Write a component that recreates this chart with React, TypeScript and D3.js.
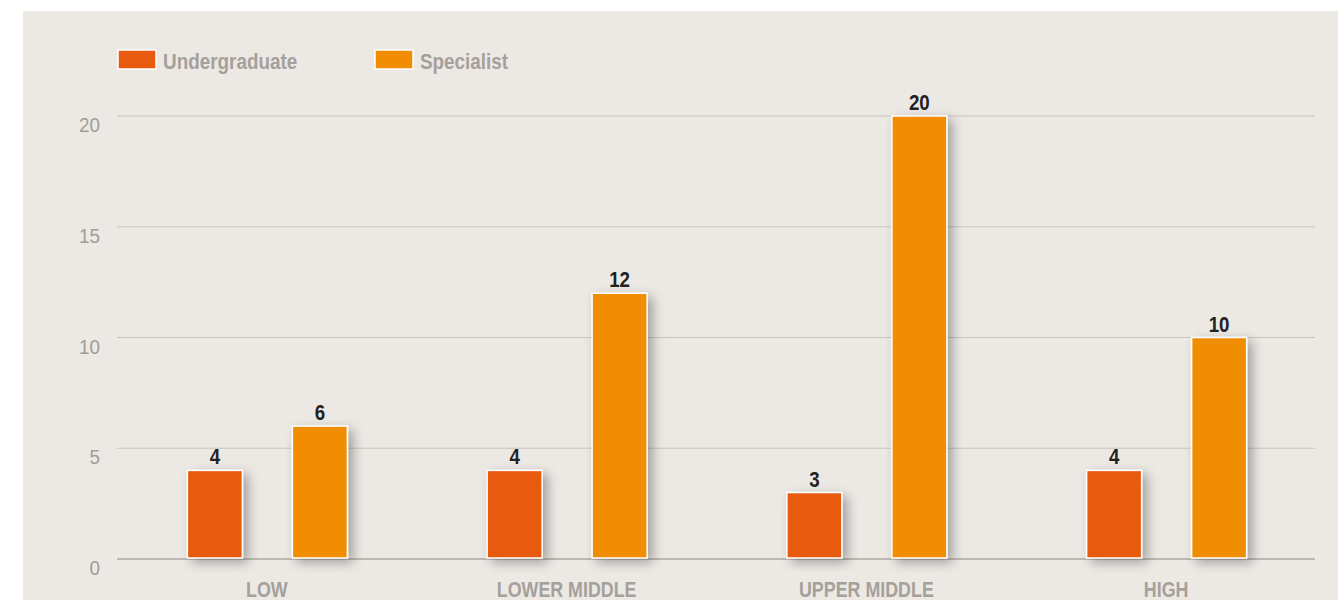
import React from "react";
import * as d3 from "d3";

const categories = ["LOW", "LOWER MIDDLE", "UPPER MIDDLE", "HIGH"];
const seriesNames = ["Undergraduate", "Specialist"];
const undergraduate = [4, 4, 3, 4];
const specialist = [6, 12, 20, 10];
const yTicks = [0, 5, 10, 15, 20];
const colors = ["#e85a10", "#f08d00"];

const W = 1338, H = 601;
const FONT = "'Liberation Sans', Arial, sans-serif";

function T(props: { x: number; y: number; sx: number; size: number; weight?: string; fill: string; anchor?: string; children: React.ReactNode }) {
  return (
    <text
      transform={`translate(${props.x},${props.y}) scale(${props.sx},1)`}
      textAnchor={props.anchor || "start"}
      fontFamily={FONT}
      fontSize={props.size}
      fontWeight={props.weight || "normal"}
      fill={props.fill}
    >
      {props.children}
    </text>
  );
}

export default function App() {
  const x = d3.scaleBand<string>().domain(categories).range([117, 1316]);
  const y = d3.scaleLinear().domain([0, 20]).range([559, 116]);
  const series = [undergraduate, specialist];
  const bw = 55;
  const offs = [-52, 53];
  return (
    <svg width={W} height={H} style={{ position: "absolute", left: 0, top: 0 }}>
      <defs>
        <filter id="sh" x="-50%" y="-20%" width="200%" height="140%">
          <feGaussianBlur in="SourceAlpha" stdDeviation="6" />
          <feOffset dx="5" dy="4" result="b" />
          <feComponentTransfer><feFuncA type="linear" slope="0.32" /></feComponentTransfer>
          <feMerge><feMergeNode /><feMergeNode in="SourceGraphic" /></feMerge>
        </filter>
      </defs>
      <rect x={23} y={11} width={W - 23} height={589} fill="#ece9e5" />
      {yTicks.map((t) => (
        <g key={t}>
          <line x1={117} x2={1315} y1={y(t)} y2={y(t)} stroke={t === 0 ? "#bdb8b1" : "#c9c4bd"} strokeWidth={t === 0 ? 2 : 1.2} />
          <T x={100} y={y(t) + 16} sx={0.9} size={21} fill="#a19c96" anchor="end">{t}</T>
        </g>
      ))}
      {categories.map((c, i) => {
        const cx = (x(c) as number) + x.bandwidth() / 2;
        return (
          <g key={c}>
            {series.map((s, j) => {
              const bx = cx + offs[j] - bw / 2;
              return (
                <g key={j}>
                  <rect x={bx} y={y(s[i])} width={bw} height={y(0) - y(s[i]) - 1} fill={colors[j]} stroke="#ffffff" strokeWidth={1.5} filter="url(#sh)" />
                  <T x={bx + bw / 2} y={y(s[i]) - 6} sx={0.87} size={21.5} weight="bold" fill="#222" anchor="middle">{s[i]}</T>
                </g>
              );
            })}
            <T x={cx} y={597} sx={0.83} size={21.5} weight="bold" fill="#a5a09a" anchor="middle">{c}</T>
          </g>
        );
      })}
      {seriesNames.map((n, j) => {
        const lx = [118, 375][j];
        return (
          <g key={n}>
            <rect x={lx} y={50} width={38} height={19} fill={colors[j]} stroke="#ffffff" strokeWidth={1.5} />
            <T x={lx + 45} y={68.5} sx={0.87} size={21.7} weight="bold" fill="#a5a09a">{n}</T>
          </g>
        );
      })}
    </svg>
  );
}
